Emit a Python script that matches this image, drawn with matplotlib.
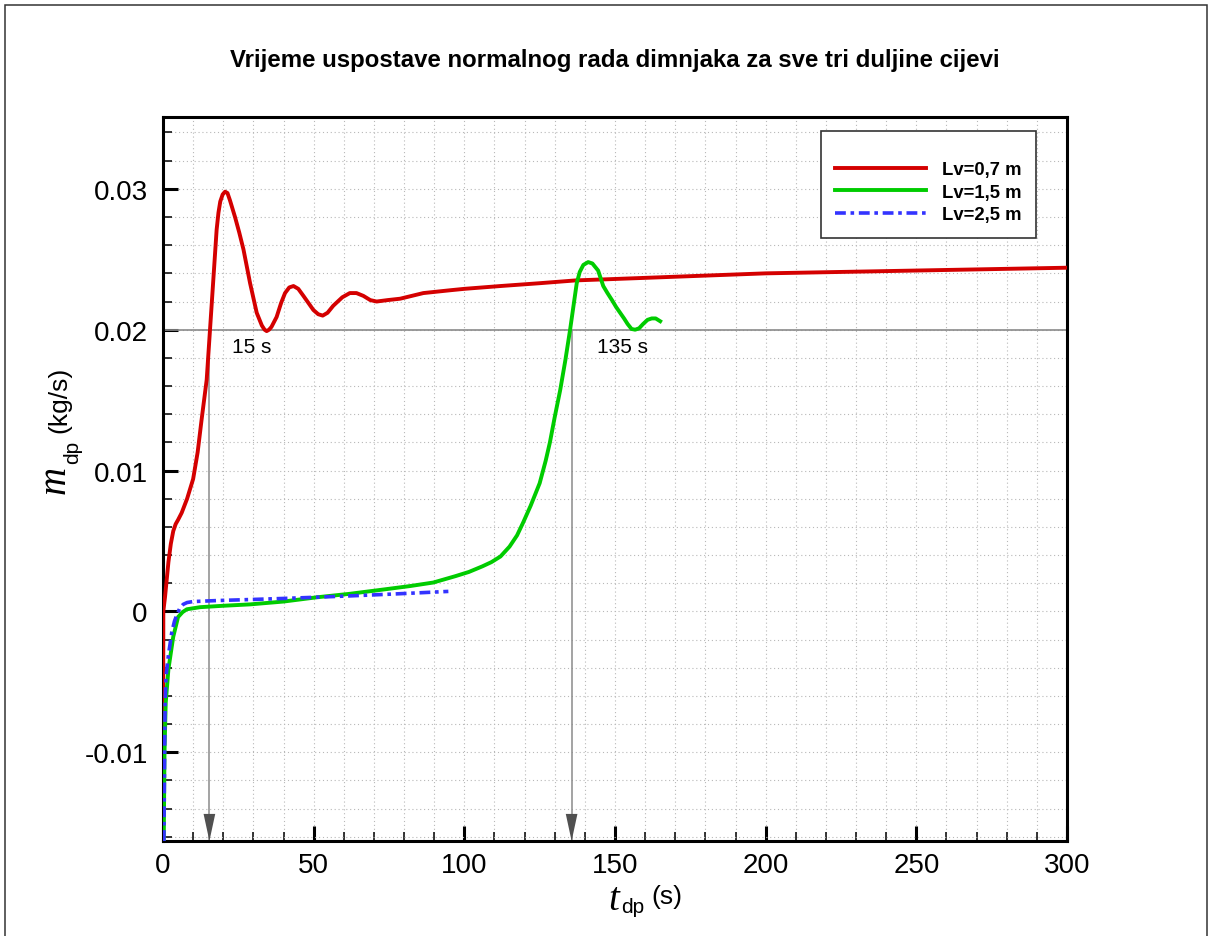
import numpy as np
import matplotlib
matplotlib.use('Agg')
import matplotlib.pyplot as plt
from matplotlib.patches import Rectangle
from matplotlib.ticker import MultipleLocator, FuncFormatter

plt.rcParams['font.family'] = ['Liberation Sans', 'DejaVu Sans']

# --- data ---
t_07 = [0, 0.1, 0.66, 1.8, 2.6, 3.4, 4.2, 5, 6.2, 8, 10, 11.5, 12.8, 14.5, 15.6,
        16.7, 17.8, 18.4, 19.0, 19.8, 20.6, 21.4, 22.2, 23.9, 25.3, 26.7, 28.9,
        31.1, 32.8, 33.7, 34.4, 35.2, 36, 37.7, 39.2, 40.5, 41.9, 43.3, 44.9, 46.6,
        49.9, 51.5, 53, 54.6, 56.5, 59.5, 62, 64.2, 66.5, 68.8, 70.9, 74.5, 78.7,
        86.4, 95.3, 100, 112, 125, 137, 150, 175, 200, 225, 250, 275, 300]
m_07 = [-0.0163, 0.0, 0.0010, 0.0035, 0.0048, 0.0057, 0.0062, 0.0065, 0.0070,
        0.0080, 0.0094, 0.0113, 0.0136, 0.01645, 0.0200, 0.02355, 0.0271, 0.0283,
        0.0291, 0.0296, 0.0298, 0.0297, 0.0292, 0.0280, 0.0269, 0.0257, 0.0233,
        0.0212, 0.0203, 0.0200, 0.0199, 0.0200, 0.0202, 0.0209, 0.0219, 0.0226,
        0.0230, 0.0231, 0.0229, 0.0224, 0.0214, 0.0211, 0.0210, 0.0212, 0.0217,
        0.0223, 0.0226, 0.0226, 0.0224, 0.0221, 0.0220, 0.0221, 0.0222, 0.0226,
        0.0228, 0.0229, 0.0231, 0.0233, 0.0235, 0.0236, 0.0238, 0.0240, 0.0241,
        0.0242, 0.0243, 0.0244]

t_15 = [0.25, 0.5, 0.9, 1.8, 3.4, 5, 6.5, 7.9, 12.3, 20, 29, 40, 51, 62, 73, 82,
        89.7, 97, 101.5, 106, 109, 112, 115, 117.5, 119.5, 122, 125, 127, 128.4,
        130, 131.8, 133.5, 135.1, 136.3, 137.3, 138.3, 139.5, 141.1, 142.5, 144.4,
        146.1, 147.5, 149, 150.4, 151.7, 153, 154.2, 155.5, 156.7, 158, 159.3,
        160.8, 162.2, 163.5, 165]
m_15 = [-0.0163, -0.0100, -0.0065, -0.0041, -0.0018, -0.0004, -0.00005, 0.00015,
        0.0003, 0.0004, 0.0005, 0.0007, 0.0010, 0.00125, 0.00155, 0.0018, 0.00205,
        0.0025, 0.0028, 0.0032, 0.0035, 0.0039, 0.0046, 0.0054, 0.0063, 0.0075,
        0.0091, 0.0107, 0.0120, 0.0138, 0.0157, 0.0178, 0.0200, 0.0218, 0.0233,
        0.0241, 0.0246, 0.0248, 0.0247, 0.0242, 0.0231, 0.0226, 0.0221, 0.0216,
        0.0212, 0.0208, 0.0204, 0.02005, 0.0200, 0.0201, 0.0204, 0.0207, 0.0208,
        0.0208, 0.0206]

t_25 = [0.3, 0.5, 0.7, 1.0, 1.8, 2.9, 3.8, 4.5, 5.5, 6.7, 8, 10, 18, 30, 40, 50,
        62, 75, 85, 94.7]
m_25 = [-0.0163, -0.0110, -0.0065, -0.0046, -0.0031, -0.0015, -0.0007, -0.0003,
        0.0002, 0.0005, 0.00063, 0.0007, 0.00077, 0.00085, 0.00092, 0.0010, 0.0011,
        0.00122, 0.00132, 0.00142]

labels = ['Lv=0,7 m', 'Lv=1,5 m', 'Lv=2,5 m']
threshold = 0.02
arrival_times = [15.4, 135.6]
arrival_labels = ['15 s', '135 s']
label_x = [22.9, 144.0]
label_y = 0.0184

x_ticks = [0, 50, 100, 150, 200, 250, 300]
y_ticks = [-0.01, 0, 0.01, 0.02, 0.03]
x_lim = (0, 300)
y_lim = (-0.0163, 0.0351)

fig = plt.figure(figsize=(12.1, 9.37), dpi=100)
ax = fig.add_axes([163 / 1210, 1 - 842 / 937, 904 / 1210, 724 / 937])

ax.set_xlim(*x_lim)
ax.set_ylim(*y_lim)
ax.set_xticks(x_ticks)
ax.set_yticks(y_ticks)
ax.xaxis.set_minor_locator(MultipleLocator(10))
ax.yaxis.set_minor_locator(MultipleLocator(0.002))
ax.yaxis.set_major_formatter(FuncFormatter(lambda v, p: f'{v:g}'))

ax.grid(True, which='both', color='#b8b8b8', lw=0.8, ls=(0, (1, 2.5)))
ax.set_axisbelow(True)

ax.tick_params(which='major', direction='in', length=11, width=2.2, labelsize=20)
ax.tick_params(which='minor', direction='in', length=6.5, width=1.1)
ax.tick_params(axis='x', which='major', pad=8)
ax.tick_params(axis='y', which='major', pad=11)
for s in ax.spines.values():
    s.set_linewidth(2.2)

# threshold line and arrival arrows
ax.axhline(threshold, color='#8a8a8a', lw=1.2, zorder=1.5)
for t, lab, lx in zip(arrival_times, arrival_labels, label_x):
    ax.vlines(t, y_lim[0], threshold, color='#8a8a8a', lw=1.1, zorder=1.5)
    ax.annotate('', xy=(t, y_lim[0]), xytext=(t, threshold),
                arrowprops=dict(arrowstyle='-|>,head_length=1.95,head_width=0.42',
                                color='#505050', lw=0, shrinkA=0, shrinkB=0,
                                mutation_scale=10),
                annotation_clip=False, zorder=1.6)
    ax.text(lx, label_y, lab, fontsize=15, ha='left', va='baseline')

ax.plot(t_07, m_07, color='#d40000', lw=2.8, label=labels[0], zorder=3)
ax.plot(t_15, m_15, color='#00cc00', lw=2.8, label=labels[1], zorder=3)
ax.plot(t_25, m_25, color='#3333ff', lw=2.6, ls=(0, (3, 1.3, 1, 1.3)),
        label=labels[2], zorder=3)

leg = ax.legend(loc='upper right', bbox_to_anchor=(0.9657, 0.9807), borderaxespad=0,
                fancybox=False, framealpha=1, edgecolor='#333333',
                prop={'weight': 'bold', 'size': 13.3}, handlelength=4.9,
                handletextpad=0.85, labelspacing=0.3, borderpad=0.8,
                title=' ', title_fontsize=7.5)
leg.get_frame().set_linewidth(1.2)

# axis labels
serif_it = dict(family='Liberation Serif', style='italic')
ax.text(-0.1084, 0.500, 'm', fontsize=28, rotation=90, rotation_mode='anchor',
        ha='center', va='baseline', transform=ax.transAxes, **serif_it)
ax.text(-0.0940, 0.5387, 'dp', fontsize=15, rotation=90, rotation_mode='anchor',
        ha='center', va='baseline', transform=ax.transAxes)
ax.text(-0.1073, 0.6105, '(kg/s)', fontsize=19, rotation=90, rotation_mode='anchor',
        ha='center', va='baseline', transform=ax.transAxes)

ax.text(0.4983, -0.0939, 't', fontsize=28, ha='center', va='baseline',
        transform=ax.transAxes, **serif_it)
ax.text(0.520, -0.098, 'dp', fontsize=15, ha='center', va='baseline',
        transform=ax.transAxes)
ax.text(0.557, -0.0856, '(s)', fontsize=19, ha='center', va='baseline',
        transform=ax.transAxes)

fig.text(0.508, 1 - 67 / 937,
         'Vrijeme uspostave normalnog rada dimnjaka za sve tri duljine cijevi',
         fontsize=17.3, fontweight='bold', ha='center', va='baseline')

fig.patches.append(Rectangle((5 / 1210, -0.02), 1202 / 1210, 1.02 - 6 / 937,
                             transform=fig.transFigure, fill=False,
                             edgecolor='#333333', lw=1.1))

fig.savefig('out.png', dpi=100)
